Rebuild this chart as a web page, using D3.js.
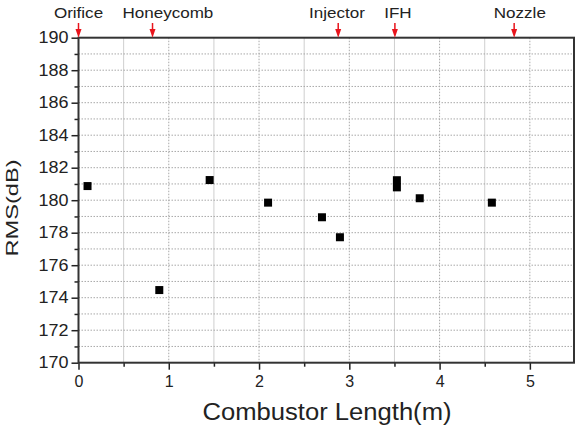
<!DOCTYPE html>
<html><head><meta charset="utf-8">
<script src="https://cdn.jsdelivr.net/npm/d3@7"></script>
<style>body{margin:0;background:#fff}svg{display:block}text{font-family:"Liberation Sans",Arial,sans-serif;fill:#222}</style>
</head><body>
<script>
const xValues = [0.10, 0.895, 1.453, 2.10, 2.697, 2.896, 3.527, 3.527, 3.78, 4.579];
const rmsValues = [180.87, 174.47, 181.24, 179.85, 178.95, 177.72, 181.23, 180.79, 180.12, 179.85];
const locationNames = ["Orifice", "Honeycomb", "Injector", "IFH", "Nozzle"];
const locationX = [0, 0.82, 2.877, 3.505, 4.826];
const locationLabelX = [0, 0.99, 2.863, 3.538, 4.889];
const xTicks = [0, 1, 2, 3, 4, 5];
const yTicks = [170, 172, 174, 176, 178, 180, 182, 184, 186, 188, 190];
const xLabel = "Combustor Length(m)";
const yLabel = "RMS(dB)";

const W = 577, H = 425;
const svg = d3.select("body").append("svg").attr("width", W).attr("height", H);
const x = d3.scaleLinear().domain([0, 5.5]).range([78.5, 575]);
const y = d3.scaleLinear().domain([170, 190]).range([362.7, 37.7]);
const L = x.range()[0], R = x.range()[1], T = y.range()[1], B = y.range()[0];

// grid
const g = svg.append("g");
d3.range(0.5, 5.5, 1).forEach(v => g.append("line").attr("x1", x(v)).attr("x2", x(v)).attr("y1", T).attr("y2", B).attr("stroke", "#cfcfcf").attr("stroke-width", 1));
xTicks.filter(v => v > 0).forEach(v => g.append("line").attr("x1", x(v)).attr("x2", x(v)).attr("y1", T).attr("y2", B).attr("stroke", "#a8a8a8").attr("stroke-width", 1).attr("stroke-dasharray", "1.5,1.5"));
d3.range(171, 190, 1).forEach(v => g.append("line").attr("x1", L).attr("x2", R).attr("y1", y(v)).attr("y2", y(v)).attr("stroke", "#a8a8a8").attr("stroke-width", 1).attr("stroke-dasharray", "1.5,1.5"));

// axes
const xAxis = svg.append("g").attr("transform", `translate(0,${B})`)
  .call(d3.axisBottom(x).tickValues(xTicks).tickFormat(d3.format("d")).tickSize(7).tickPadding(6));
const xMinor = svg.append("g").attr("transform", `translate(0,${B})`)
  .call(d3.axisBottom(x).tickValues(d3.range(0.5, 5.5, 1)).tickFormat("").tickSize(4));
const yAxis = svg.append("g").attr("transform", `translate(${L},0)`)
  .call(d3.axisLeft(y).tickValues(yTicks).tickFormat(d3.format("d")).tickSize(7).tickPadding(3));
const yMinor = svg.append("g").attr("transform", `translate(${L},0)`)
  .call(d3.axisLeft(y).tickValues(d3.range(171, 190, 2)).tickFormat("").tickSize(4));
[xAxis, xMinor, yAxis, yMinor].forEach(a => {
  a.select(".domain").remove();
  a.selectAll("line").attr("stroke", "#222").attr("stroke-width", 1.5);
  a.selectAll("text").style("font-size", "16px").attr("fill", "#1a1a1a");
});
yAxis.selectAll("text").attr("textLength", 30).attr("lengthAdjust", "spacingAndGlyphs");

// frame
svg.append("rect").attr("x", L).attr("y", T).attr("width", R - L - 1).attr("height", B - T)
  .attr("fill", "none").attr("stroke", "#333").attr("stroke-width", 2);

// points
svg.append("g").selectAll("rect").data(xValues).join("rect")
  .attr("x", (d) => x(d) - 4).attr("y", (d, i) => y(rmsValues[i]) - 4)
  .attr("width", 8).attr("height", 8).attr("fill", "#000");

// location arrows
const arr = svg.append("g");
locationX.forEach((v, i) => {
  const cx = x(v);
  arr.append("line").attr("x1", cx).attr("x2", cx).attr("y1", 23).attr("y2", 31).attr("stroke", "#e8141c").attr("stroke-width", 1.5);
  arr.append("path").attr("d", `M${cx - 3},${29}L${cx + 3},${29}L${cx},${T}Z`).attr("fill", "#e8141c");
  arr.append("text").attr("transform", `translate(${x(locationLabelX[i])},18) scale(1.1,1)`).attr("text-anchor", "middle")
    .style("font-size", "15.5px").text(locationNames[i]);
});

// titles
svg.append("text").attr("x", 327).attr("y", 420).attr("text-anchor", "middle")
  .style("font-size", "23px").attr("textLength", 249).attr("lengthAdjust", "spacingAndGlyphs").text(xLabel);
svg.append("text").attr("transform", "translate(18,208) rotate(-90)").attr("text-anchor", "middle")
  .style("font-size", "17px").attr("textLength", 97).attr("lengthAdjust", "spacingAndGlyphs").text(yLabel);
</script>
</body></html>
